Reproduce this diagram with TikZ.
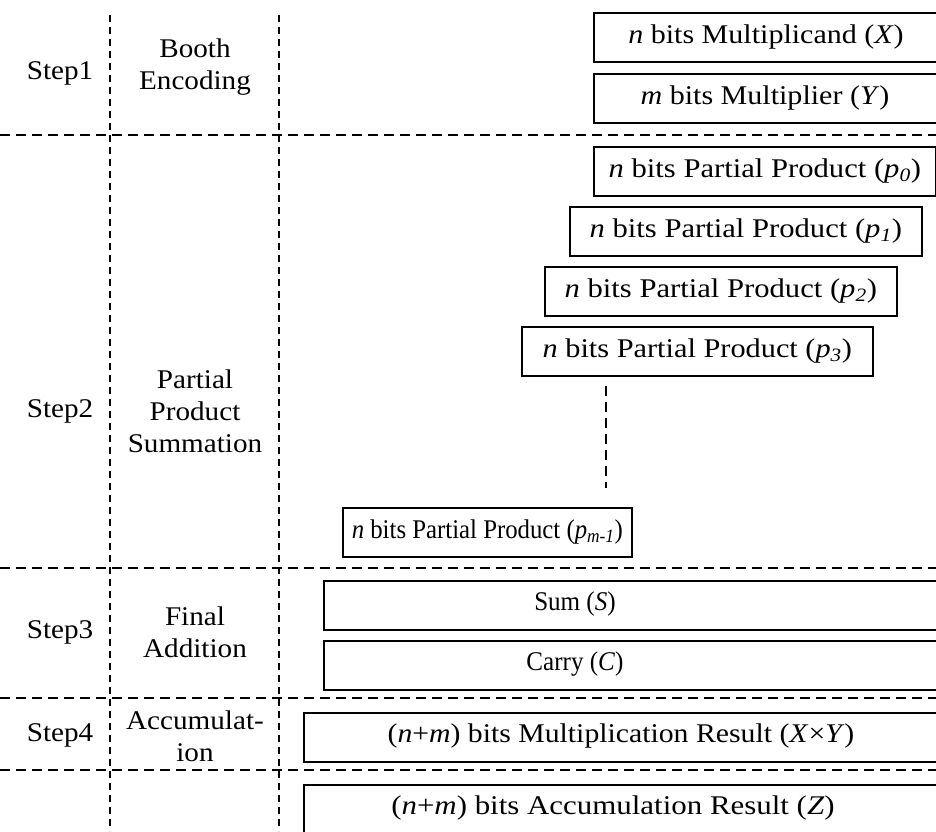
\documentclass[tikz,border=0pt]{standalone}
\usepackage{fontspec}
\usepackage{graphicx}
\setmainfont{Liberation Serif}[FakeStretch=1.08]
\newcommand{\hsc}[2]{\scalebox{#1}[1]{#2}}
\begin{document}
\begin{tikzpicture}[x=1pt,y=-1pt,
  every node/.style={font=\fontsize{27}{32}\selectfont, inner sep=0pt},
  box/.style={draw, line width=1.6pt, minimum height=49pt, anchor=north west},
  sep/.style={line width=1.6pt, dash pattern=on 10pt off 6pt},
  col/.style={line width=1.6pt, dash pattern=on 7pt off 5pt},
  lab/.style={align=center}]
\useasboundingbox (0,0) rectangle (936,831);
\clip (0,0) rectangle (936,831);

% column and row separators
\coordinate (c1t) at (110,15);  \coordinate (c1b) at (110,831);
\coordinate (c2t) at (279,15);  \coordinate (c2b) at (279,831);
\draw[col] (c1t) -- (c1b);
\draw[col] (c2t) -- (c2b);
\foreach \yy/\nm in {135/r1,568/r2,698/r3,770/r4}{
  \coordinate (\nm l) at (0,\yy);
  \coordinate (\nm r) at (936,\yy);
  \draw[sep] (\nm l) -- (\nm r);
}

% step labels
\node (s1) at (60,73) {Step1};
\node[lab] (n1) at (195,67) {Booth\\Encoding};
\node (s2) at (60,411) {Step2};
\node[lab] (n2) at (195,411) {Partial\\Product\\Summation};
\node (s3) at (60,632) {Step3};
\node[lab] (n3) at (195,632) {Final\\Addition};
\node (s4) at (60,735) {Step4};
\node[lab] (n4) at (195,736) {Accumulat-\\ion};

% step 1 operands
\node[box, minimum width=348pt] (bx) at (593,12) {};
\node (tx) at (766,37) {\hsc{1.03}{\textit{n} bits Multiplicand (\textit{X})}};
\node[box, minimum width=348pt] (by) at (593,73) {};
\node (ty) at (765,98) {\hsc{1.03}{\textit{m} bits Multiplier (\textit{Y})}};

% step 2 partial products
\node[box, minimum width=342pt] (p0) at (593,146) {};
\node (tp0) at (p0.center) {\hsc{1.05}{\textit{n} bits Partial Product (\textit{p\textsubscript{0}})}};
\node[box, minimum width=352pt] (p1) at (569,206) {};
\node (tp1) at (p1.center) {\hsc{1.05}{\textit{n} bits Partial Product (\textit{p\textsubscript{1}})}};
\node[box, minimum width=352pt] (p2) at (544,266) {};
\node (tp2) at (p2.center) {\hsc{1.05}{\textit{n} bits Partial Product (\textit{p\textsubscript{2}})}};
\node[box, minimum width=351pt] (p3) at (521,326) {};
\node (tp3) at (p3.center) {\hsc{1.04}{\textit{n} bits Partial Product (\textit{p\textsubscript{3}})}};
\coordinate (dt) at (606,386);
\coordinate (db) at (606,488);
\draw[sep] (dt) -- (db);
\node[box, minimum width=289pt] (pm) at (342,507) {};
\node (tpm) at (pm.center) {\hsc{0.85}{\textit{n} bits Partial Product (\textit{p\textsubscript{m-1}})}};

% step 3 final addition
\node[box, minimum width=630pt] (bs) at (323,580) {};
\node (ts) at (575,604) {\hsc{0.86}{Sum (\textit{S})}};
\node[box, minimum width=630pt] (bc) at (323,640) {};
\node (tc) at (575,664) {\hsc{0.86}{Carry (\textit{C})}};

% step 4 accumulation
\node[box, minimum width=650pt] (br) at (303,712) {};
\node (tr) at (621,736) {\hsc{1.02}{(\textit{n}+\textit{m}) bits Multiplication Result (\textit{X}×\textit{Y})}};
\node[box, minimum width=650pt] (bz) at (303,784) {};
\node (tz) at (613,808) {\hsc{1.06}{(\textit{n}+\textit{m}) bits Accumulation Result (\textit{Z})}};
\end{tikzpicture}
\end{document}
